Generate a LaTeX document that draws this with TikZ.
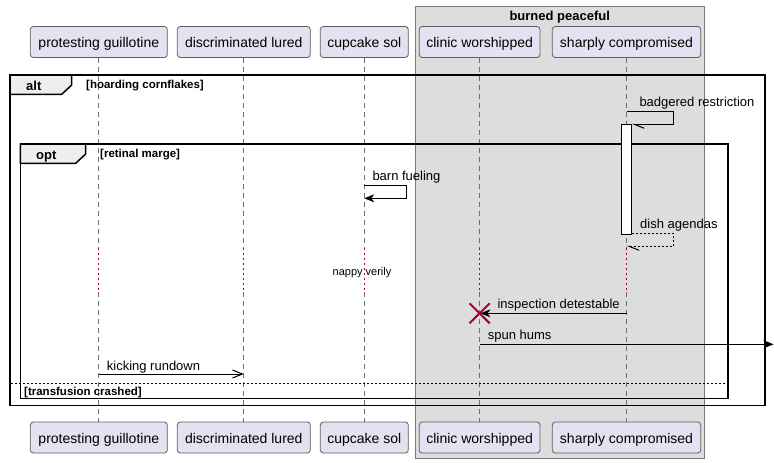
\documentclass[tikz,border=0pt]{standalone}
\usepackage{fontspec}
\setmainfont{Liberation Sans}
\usetikzlibrary{arrows.meta}
\definecolor{partfill}{HTML}{E2E2F0}
\definecolor{partline}{HTML}{5E5E5E}
\definecolor{boxfill}{HTML}{DDDDDD}
\definecolor{boxline}{HTML}{7A7A7A}
\definecolor{tabfill}{HTML}{EEEEEE}
\definecolor{lifecol}{HTML}{6E6E6E}
\definecolor{xred}{HTML}{A80036}
\tikzset{
  part/.style={draw=partline, fill=partfill, line width=0.8pt, rounded corners=3pt,
    minimum height=31pt, inner sep=0pt, text height=12.5pt, text depth=1pt,
    font=\fontsize{14}{16}\selectfont},
  life/.style={draw=lifecol, line width=0.8pt, dash pattern=on 5pt off 4pt},
  delay/.style={draw=xred, line width=1.2pt, dash pattern=on 1.5pt off 3.5pt},
  frame/.style={draw=black, line width=1.6pt},
  tabshape/.style={draw=black, line width=1.5pt, fill=tabfill},
  tablabel/.style={anchor=base west, inner sep=0pt, font=\fontsize{13}{15}\selectfont\bfseries},
  guard/.style={anchor=base west, inner sep=0pt, font=\fontsize{11.5}{13}\selectfont\bfseries},
  msglabel/.style={anchor=base west, inner sep=0pt, font=\fontsize{13}{15}\selectfont},
  msg/.style={draw=black, line width=0.9pt},
  filledtip/.style={-{Stealth[length=10pt,width=8pt,inset=3pt]}},
  opentip/.style={-{Straight Barb[length=10pt,width=8pt,line width=1pt]}},
  halftip/.style={-{Straight Barb[length=10pt,width=8pt,harpoon,line width=1pt]}},
  actbox/.style={draw=black, fill=white, line width=0.9pt, inner sep=0pt},
}
\begin{document}
\begin{tikzpicture}[x=1pt,y=-1pt]
\useasboundingbox (0,0) rectangle (774,463);
% group box
\node[draw=boxline, fill=boxfill, line width=0.8pt, inner sep=0pt, minimum width=289.3pt, minimum height=452pt] (grp) at (559.65,232) {};
\node[anchor=base, inner sep=0pt, font=\fontsize{13}{15}\selectfont\bfseries] (grptitle) at (559.7,20.3) {burned peaceful};
% participants
\node[part, minimum width=137pt] (p1) at (98.8,42) {protesting guillotine};
\node[part, minimum width=133pt] (p2) at (243.8,42) {discriminated lured};
\node[part, minimum width=88pt] (p3) at (364.3,42) {cupcake sol};
\node[part, minimum width=120.7pt] (p4) at (479.6,42) {clinic worshipped};
\node[part, minimum width=148.4pt] (p5) at (626.5,42) {sharply compromised};
\node[part, minimum width=137pt] (q1) at (98.8,437.5) {protesting guillotine};
\node[part, minimum width=133pt] (q2) at (243.8,437.5) {discriminated lured};
\node[part, minimum width=88pt] (q3) at (364.3,437.5) {cupcake sol};
\node[part, minimum width=120.7pt] (q4) at (479.6,437.5) {clinic worshipped};
\node[part, minimum width=148.4pt] (q5) at (626.5,437.5) {sharply compromised};
% lifelines with delay
\foreach \i/\x in {1/98.8,2/243.8,3/364.3,4/479.6,5/626.5}{
  \coordinate (da\i) at (\x,248);
  \coordinate (db\i) at (\x,292);
  \draw[life] (p\i.south) -- (da\i);
  \draw[delay] (da\i) -- (db\i);
  \draw[life] (db\i) -- (q\i.north);
}
% alt frame
\draw[frame] (10,75) rectangle (765,405.5);
\draw[tabshape] (10,75) -- (71.7,75) -- (71.7,85) -- (61.7,94.3) -- (10,94.3) -- cycle;
\node[tablabel] (altlbl) at (26,90.3) {alt};
\node[guard] (g1) at (86,88.3) {[hoarding cornflakes]};
% opt frame
\draw[frame] (20.3,144) rectangle (727.7,398.3);
\draw[tabshape] (20.3,144) -- (85.7,144) -- (85.7,154) -- (75.7,163.3) -- (20.3,163.3) -- cycle;
\node[tablabel] (optlbl) at (36,159) {opt};
\node[guard] (g2) at (100,157.2) {[retinal marge]};
% else separator
\coordinate (sepL) at (11,383.3);
\coordinate (sepR) at (727.7,383.3);
\draw[line width=0.8pt, dash pattern=on 2pt off 2pt] (sepL) -- (sepR);
\node[guard] (g3) at (24,395.4) {[transfusion crashed]};
% badgered restriction
\coordinate (b1) at (626.5,111.7);
\coordinate (b2) at (673.3,111.7);
\coordinate (b3) at (673.3,124.3);
\coordinate (b4) at (631.7,124.3);
\draw[msg, halftip] (b1) -- (b2) -- (b3) -- (b4);
\node[msglabel] (lb1) at (639.3,106.5) {badgered restriction};
% activation
\node[actbox, minimum width=10pt, minimum height=110pt] (act) at (626.7,179.3) {};
% barn fueling
\coordinate (f1) at (364.3,185);
\coordinate (f2) at (406.7,185);
\coordinate (f3) at (406.7,198.3);
\coordinate (f4) at (364.3,198.3);
\draw[msg, filledtip] (f1) -- (f2) -- (f3) -- (f4);
\node[msglabel] (lb2) at (372.3,180) {barn fueling};
% dish agendas
\coordinate (h1) at (631.7,233.3);
\coordinate (h2) at (673.3,233.3);
\coordinate (h3) at (673.3,246.3);
\coordinate (h4) at (626.5,246.3);
\draw[msg, halftip, dash pattern=on 2pt off 2pt] (h1) -- (h2) -- (h3) -- (h4);
\node[msglabel] (lb3) at (640,228) {dish agendas};
% delay text
\node[anchor=base, inner sep=0pt, font=\fontsize{11}{13}\selectfont] (nv) at (362,275) {nappy verily};
% inspection detestable
\coordinate (i1) at (626.5,313.3);
\coordinate (i2) at (480.5,313.3);
\draw[msg, filledtip] (i1) -- (i2);
\node[msglabel] (lb4) at (497.3,308.5) {inspection detestable};
\draw[draw=xred, line width=2pt] (469.5,303.3) -- (489.7,323.3);
\draw[draw=xred, line width=2pt] (469.5,323.3) -- (489.7,303.3);
% spun hums
\coordinate (s1) at (479.6,344.3);
\coordinate (s2) at (773.5,344.3);
\draw[msg, filledtip] (s1) -- (s2);
\node[msglabel] (lb5) at (487.7,339) {spun hums};
% kicking rundown
\coordinate (k1) at (98.8,374);
\coordinate (k2) at (243.8,374);
\draw[msg, opentip] (k1) -- (k2);
\node[msglabel] (lb6) at (106.7,370) {kicking rundown};
\end{tikzpicture}
\end{document}
